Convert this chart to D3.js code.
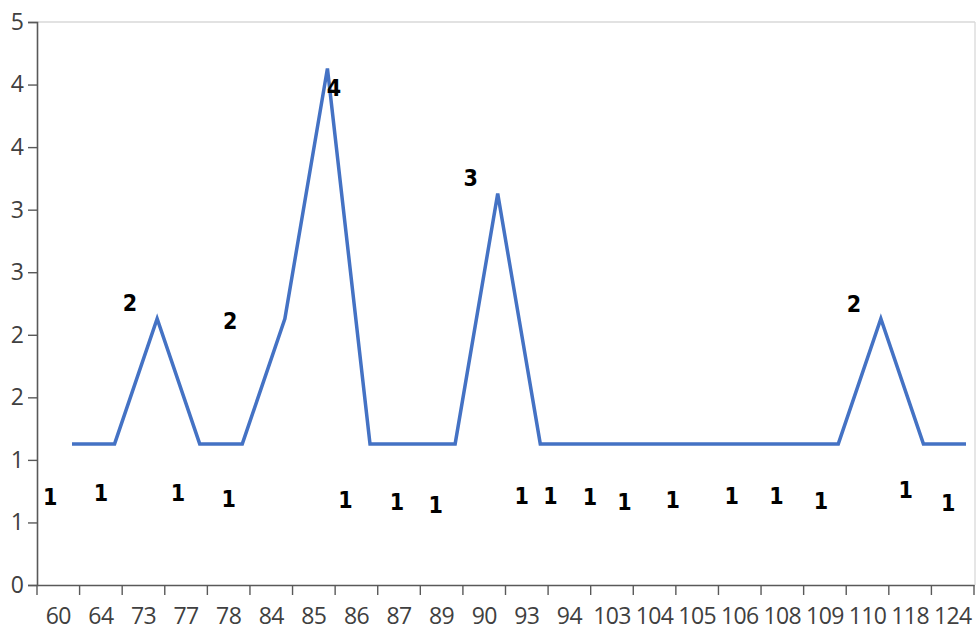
<!DOCTYPE html>
<html>
<head>
<meta charset="utf-8">
<script src="https://cdn.jsdelivr.net/npm/d3@7"></script>
<style>
  html, body { margin: 0; padding: 0; background: #fff; }
  svg { display: block; }
</style>
</head>
<body>
<svg id="chart" width="978" height="630"></svg>
<script>
// ---- data ----
const categories = ["60","64","73","77","78","84","85","86","87","89","90","93","94","103","104","105","106","108","109","110","118","124"];
const values = [1,1,2,1,1,2,4,1,1,1,3,1,1,1,1,1,1,1,1,2,1,1];
const dataLabels = ["1","1","2","1","1","2","4","1","1","1","3","1","1","1","1","1","1","1","1","2","1","1"];
const yTickValues = [0,0.5,1,1.5,2,2.5,3,3.5,4,4.5];
const yTickLabels = ["0","1","1","2","2","3","3","4","4","5"];
// label nudges (layout only)
const labelDx = [-8,0,-13.5,-8,0,-41,20,-11,-2,-6,-13.5,-5,-19,-22,-30,-24.5,-8,-6,-4,-13.5,-4.5,-4.5];
const labelDy = [37,33.4,-32,33.4,39.4,-14,3.3,40.4,42,45.4,-32,36.4,36.4,37,42,40.4,36.4,36.4,41,-31,30.4,43];

(function () {
// ---- layout ----
const mLeft = 37, mRight = 974, mTop = 22, mBottom = 585;
const svg = d3.select("#chart");

const x = d3.scaleBand().domain(categories).range([mLeft, mRight]).padding(0);
const y = d3.scaleLinear().domain([0, 4.5]).range([mBottom, mTop]);
// series is plotted on a slightly displaced (secondary) frame, as in the reference
const xLine = d3.scalePoint().domain(categories).range([72, 966]);
const yLine = d3.scaleLinear().domain([0, 4.5]).range([mBottom - 16, mTop - 16]);

// plot border (top & right, light)
svg.append("line").attr("x1", mLeft).attr("x2", mRight + 1).attr("y1", mTop).attr("y2", mTop)
  .attr("stroke", "#d9d9d9").attr("stroke-width", 1.3);
svg.append("line").attr("x1", mRight + 1).attr("x2", mRight + 1).attr("y1", mTop).attr("y2", mBottom)
  .attr("stroke", "#d9d9d9").attr("stroke-width", 1.3);

const axisFont = "'Open Sans', 'Noto Sans', sans-serif";

// y axis
const yAxis = d3.axisLeft(y).tickValues(yTickValues)
  .tickFormat((d, i) => yTickLabels[i]).tickSize(9).tickPadding(4);
const gy = svg.append("g").attr("transform", `translate(${mLeft},0)`).call(yAxis);
gy.select(".domain").attr("stroke", "#595959").attr("stroke-width", 1.6);
gy.selectAll(".tick line").attr("stroke", "#595959").attr("stroke-width", 1.4);
gy.selectAll(".tick text").attr("fill", "#404040")
  .style("font-family", axisFont).style("font-size", "23px");

// x axis (labels centered in bands, ticks at band boundaries)
const xAxis = d3.axisBottom(x).tickSize(0).tickPadding(23);
const gx = svg.append("g").attr("transform", `translate(0,${mBottom})`).call(xAxis);
gx.select(".domain").attr("stroke", "#595959").attr("stroke-width", 1.6);
gx.selectAll(".tick text").attr("fill", "#404040")
  .style("font-family", axisFont).style("font-size", "23px").style("letter-spacing", "-0.6px");
const boundaries = categories.map(c => x(c)).concat([x(categories[categories.length - 1]) + x.bandwidth()]);
gx.selectAll("line.btick").data(boundaries).enter().append("line")
  .attr("class", "btick")
  .attr("x1", d => d).attr("x2", d => d).attr("y1", 0).attr("y2", 10)
  .attr("stroke", "#595959").attr("stroke-width", 1.4);

// line
const line = d3.line().x((d, i) => xLine(categories[i])).y(d => yLine(d));
svg.append("path").datum(values).attr("d", line)
  .attr("fill", "none").attr("stroke", "#4472C4").attr("stroke-width", 3.5)
  .attr("stroke-linejoin", "miter");

// data labels
svg.selectAll("text.dl").data(values).enter().append("text")
  .attr("class", "dl")
  .attr("x", (d, i) => x(categories[i]) + x.bandwidth() / 2 + labelDx[i])
  .attr("y", (d, i) => y(d) + labelDy[i])
  .attr("text-anchor", "middle").attr("dominant-baseline", "central")
  .style("font-family", "'DejaVu Sans Condensed', 'DejaVu Sans', sans-serif")
  .style("font-weight", "bold").style("font-size", "23px")
  .attr("fill", "#000")
  .text((d, i) => dataLabels[i]);
})();
</script>
</body>
</html>
